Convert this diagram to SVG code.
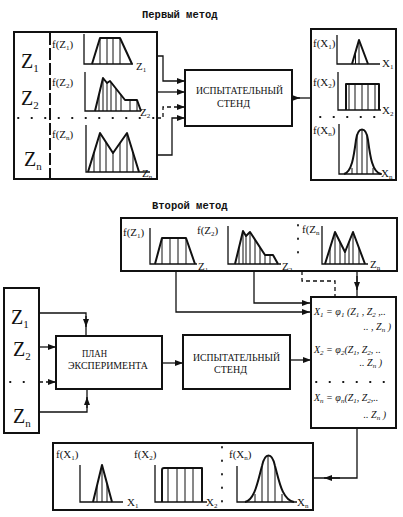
<svg xmlns="http://www.w3.org/2000/svg" width="403" height="517" viewBox="0 0 403 517">
<style>
.box{fill:none;stroke:#111;stroke-width:2}
.ax{fill:none;stroke:#111;stroke-width:1.3}
.sh{fill:none;stroke:#111;stroke-width:2;stroke-linejoin:round}
.ht{fill:none;stroke:#111;stroke-width:1}
.ln{fill:none;stroke:#111;stroke-width:1.3}
.dash{fill:none;stroke:#111;stroke-width:1.3;stroke-dasharray:4 3}
.dots{fill:none;stroke:#111;stroke-width:1.8;stroke-linecap:round;stroke-dasharray:0.5 13}
.title{font-family:"Liberation Mono",monospace;font-weight:bold;font-size:10.5px;fill:#111}
.lbl{font-family:"Liberation Serif",serif;font-size:10px;fill:#111}
.fz{font-family:"Liberation Serif",serif;font-size:11px;fill:#111}
.big{font-family:"Liberation Serif",serif;font-size:20px;fill:#111}
.fm{font-family:"Liberation Serif",serif;font-size:10px;font-style:italic;fill:#111}
</style>
<defs>
<marker id="arr" viewBox="0 0 8 6" refX="8" refY="3" markerWidth="8" markerHeight="6" markerUnits="userSpaceOnUse" orient="auto">
<path d="M0,0 L8,3 L0,6 z" fill="#111"/>
</marker>
</defs>

<text class="title" x="142" y="18">Первый метод</text>
<text class="title" x="152" y="209">Второй метод</text>

<g id="z-inputs-1">
<rect class="box" x="14" y="32" width="143" height="147"/>
<path d="M50,33 V179" fill="none" stroke="#111" stroke-width="2" stroke-dasharray="12 3"/>
<path class="dots" d="M18,118 H156"/>
<text class="big" x="21" y="68">Z<tspan font-size="11" dy="4">1</tspan></text>
<text class="big" x="21" y="105">Z<tspan font-size="11" dy="4">2</tspan></text>
<text class="big" x="24" y="166">Z<tspan font-size="11" dy="4">n</tspan></text>
<text class="fz" x="52" y="48">f(Z<tspan font-size="7" dy="2">1</tspan><tspan dy="-2">)</tspan></text>
<path class="ax" d="M84,34 V64 H133"/>
<path class="sh" d="M92,64 L100,38 H120 L132,64"/>
<path class="ht" d="M100,38V64 M107,38V64 M113,38V64 M120,38V64"/>
<text class="fz" x="136" y="70">Z<tspan font-size="7" dy="2">1</tspan></text>
<text class="fz" x="52" y="86">f(Z<tspan font-size="7" dy="2">2</tspan><tspan dy="-2">)</tspan></text>
<path class="ax" d="M85,72 V111 H141"/>
<path class="sh" d="M95,111 L103,78 L107,83 L110,81 L125,100 H137 L141,111"/>
<path class="ht" d="M99,94.5V111 M103,78V111 M107,83V111 M111,82.3V111 M116,88.6V111 M121,94.9V111 M130,100V111 M137,100V111"/>
<text class="fz" x="140" y="116">Z<tspan font-size="7" dy="2">2</tspan></text>
<text class="fz" x="52" y="138">f(Z<tspan font-size="7" dy="2">n</tspan><tspan dy="-2">)</tspan></text>
<path class="ax" d="M86,125 V172 H150"/>
<path class="sh" d="M88,172 L100,133 L113,153 L127,133 L139,172"/>
<path class="ht" d="M94,152.5V172 M100,133V172 M106,142.2V172 M113,153V172 M120,143V172 M127,133V172 M133,152.5V172"/>
<text class="fz" x="142" y="177">Z<tspan font-size="7" dy="2">n</tspan></text>
</g>

<g id="stand-1">
<rect class="box" x="185" y="70" width="107" height="56"/>
<text class="lbl" x="196" y="94" textLength="87" lengthAdjust="spacingAndGlyphs">ИСПЫТАТЕЛЬНЫЙ</text>
<text class="lbl" x="217" y="107" textLength="33" lengthAdjust="spacingAndGlyphs">СТЕНД</text>
</g>

<g id="x-outputs-1">
<rect class="box" x="311" y="29" width="85" height="151"/>
<text class="fz" x="313" y="47">f(X<tspan font-size="7" dy="2">1</tspan><tspan dy="-2">)</tspan></text>
<path class="ax" d="M337,35 V64 H380"/>
<path class="sh" d="M352,64 L359,40 L368,64"/>
<path class="ht" d="M359,40V64 M355.5,52V64"/>
<text class="fz" x="382" y="67">X<tspan font-size="7" dy="2">1</tspan></text>
<text class="fz" x="313" y="86">f(X<tspan font-size="7" dy="2">2</tspan><tspan dy="-2">)</tspan></text>
<path class="ax" d="M338,72 V110 H381"/>
<path class="sh" d="M346,110 V84 H379 V110"/>
<path class="ht" d="M349,84V110 M355,84V110 M362,84V110 M368,84V110 M375,84V110"/>
<text class="fz" x="382" y="114">X<tspan font-size="7" dy="2">2</tspan></text>
<path class="dots" d="M320,117 H380" stroke-dasharray="0.5 14"/>
<text class="fz" x="313" y="134">f(X<tspan font-size="7" dy="2">n</tspan><tspan dy="-2">)</tspan></text>
<path class="ax" d="M339,124 V174 H382"/>
<path class="sh" d="M344,174 C352,172 354,155 356,140 C358,126 366,126 368,140 C370,155 372,172 381,174"/>
<path class="ht" d="M352,168V174 M357,136V174 M362,129V174 M367,136V174 M373,168V174"/>
<text class="fz" x="381" y="177">X<tspan font-size="7" dy="2">n</tspan></text>
</g>

<g id="z-distributions-2">
<rect class="box" x="121" y="218" width="276" height="53"/>
<text class="fz" x="123" y="236">f(Z<tspan font-size="7" dy="2">1</tspan><tspan dy="-2">)</tspan></text>
<path class="ax" d="M150,228 V264 H197"/>
<path class="sh" d="M155,264 L162,238 H186 L195,264"/>
<path class="ht" d="M162,238V264 M170,238V264 M178,238V264 M186,238V264"/>
<text class="fz" x="198" y="270">Z<tspan font-size="7" dy="2">1</tspan></text>
<text class="fz" x="197" y="234">f(Z<tspan font-size="7" dy="2">2</tspan><tspan dy="-2">)</tspan></text>
<path class="ax" d="M228,226 V264 H281"/>
<path class="sh" d="M235,264 L243,231 L246,236 L250,232 L265,255 H273 L278,264"/>
<path class="ht" d="M239,247.5V264 M243,231V264 M246,236V264 M250,232V264 M255,239.7V264 M260,247.3V264 M265,255V264 M270,255V264"/>
<text class="fz" x="282" y="270">Z<tspan font-size="7" dy="2">2</tspan></text>
<path class="dots" d="M298,225 V262" stroke-dasharray="0.5 7"/>
<text class="fz" x="302" y="233">f(Z<tspan font-size="7" dy="2">n</tspan></text>
<path class="ax" d="M322,226 V264 H368"/>
<path class="sh" d="M325,264 L335,232 L345,252 L353,232 L365,264"/>
<path class="ht" d="M330,248V264 M335,232V264 M340,242V264 M345,252V264 M349,242V264 M353,232V264 M359,248V264"/>
<text class="fz" x="370" y="268">Z<tspan font-size="7" dy="2">n</tspan></text>
</g>

<g id="z-inputs-2">
<rect class="box" x="4" y="288" width="35" height="145"/>
<text class="big" x="11" y="324">Z<tspan font-size="11" dy="4">1</tspan></text>
<text class="big" x="13" y="356">Z<tspan font-size="11" dy="4">2</tspan></text>
<path class="dots" d="M10,382 H32" stroke-dasharray="0.5 8"/>
<text class="big" x="13" y="423">Z<tspan font-size="11" dy="4">n</tspan></text>
</g>

<g id="plan">
<rect class="box" x="56" y="336" width="106" height="53"/>
<text class="lbl" x="82" y="357" textLength="25" lengthAdjust="spacingAndGlyphs">ПЛАН</text>
<text class="lbl" x="68" y="369" textLength="80" lengthAdjust="spacingAndGlyphs">ЭКСПЕРИМЕНТА</text>
</g>

<g id="stand-2">
<rect class="box" x="183" y="335" width="107" height="54"/>
<text class="lbl" x="193" y="361" textLength="87" lengthAdjust="spacingAndGlyphs">ИСПЫТАТЕЛЬНЫЙ</text>
<text class="lbl" x="214" y="373" textLength="33" lengthAdjust="spacingAndGlyphs">СТЕНД</text>
</g>

<g id="formulas">
<rect class="box" x="311" y="297" width="85" height="131"/>
<text class="fm" x="314" y="315">X<tspan font-size="7" dy="2">1</tspan><tspan dy="-2"> = φ</tspan><tspan font-size="7" dy="2">1</tspan><tspan dy="-2"> (Z</tspan><tspan font-size="7" dy="2">1</tspan><tspan dy="-2"> , Z</tspan><tspan font-size="7" dy="2">2</tspan><tspan dy="-2"> ,..</tspan></text>
<text class="fm" x="391" y="330" text-anchor="end">.. , Z<tspan font-size="7" dy="2">n</tspan><tspan dy="-2"> )</tspan></text>
<text class="fm" x="314" y="353">X<tspan font-size="7" dy="2">2</tspan><tspan dy="-2"> = φ</tspan><tspan font-size="7" dy="2">2</tspan><tspan dy="-2">(Z</tspan><tspan font-size="7" dy="2">1</tspan><tspan dy="-2">, Z</tspan><tspan font-size="7" dy="2">2</tspan><tspan dy="-2">, ..</tspan></text>
<text class="fm" x="382" y="366" text-anchor="end">.. Z<tspan font-size="7" dy="2">n</tspan><tspan dy="-2"> )</tspan></text>
<path class="dots" d="M316,382 H392" stroke-dasharray="0.5 10"/>
<text class="fm" x="314" y="401">X<tspan font-size="7" dy="2">n</tspan><tspan dy="-2"> = φ</tspan><tspan font-size="7" dy="2">n</tspan><tspan dy="-2">(Z</tspan><tspan font-size="7" dy="2">1</tspan><tspan dy="-2">, Z</tspan><tspan font-size="7" dy="2">2</tspan><tspan dy="-2">,..</tspan></text>
<text class="fm" x="386" y="418" text-anchor="end">.. Z<tspan font-size="7" dy="2">n</tspan><tspan dy="-2"> )</tspan></text>
</g>

<g id="x-distributions-2">
<rect class="box" x="53" y="443" width="260" height="67"/>
<text class="fz" x="56" y="458">f(X<tspan font-size="7" dy="2">1</tspan><tspan dy="-2">)</tspan></text>
<path class="ax" d="M80,465 V502 H123"/>
<path class="sh" d="M93,502 L102,465 L112,502"/>
<path class="ht" d="M97,485.6V502 M102,465V502 M107,483.5V502"/>
<text class="fz" x="127" y="506">X<tspan font-size="7" dy="2">1</tspan></text>
<text class="fz" x="134" y="458">f(X<tspan font-size="7" dy="2">2</tspan><tspan dy="-2">)</tspan></text>
<path class="ax" d="M155,465 V502 H207"/>
<path class="sh" d="M162,502 V470 Q162,468 164,468 H202 V502"/>
<path class="ht" d="M168,468V502 M177,468V502 M185,468V502 M193,468V502"/>
<text class="fz" x="206" y="506">X<tspan font-size="7" dy="2">2</tspan></text>
<path class="dots" d="M222,447 V502" stroke-dasharray="0.5 7"/>
<text class="fz" x="229" y="458">f(X<tspan font-size="7" dy="2">n</tspan><tspan dy="-2">)</tspan></text>
<path class="ax" d="M237,466 V502 H297"/>
<path class="sh" d="M245,502 C255,500 258,480 262,466 C265,452 272,452 275,466 C279,480 282,500 294,502"/>
<path class="ht" d="M255,494V502 M262,466V502 M268,456V502 M275,466V502 M282,494V502"/>
<text class="fz" x="297" y="506">X<tspan font-size="7" dy="2">n</tspan></text>
</g>

<g id="connectors">
<path class="ln" d="M157,56 H163 V81 H185" marker-end="url(#arr)"/>
<path class="ln" d="M157,92 H185" marker-end="url(#arr)"/>
<path class="dash" d="M157,118 H163 V107 H185" marker-end="url(#arr)"/>
<path class="ln" d="M157,155 H172 V118 H185" marker-end="url(#arr)"/>
<path class="ln" d="M292,98 H311"/>
<path class="ln" d="M292,98 H300" marker-end="url(#arr)"/>

<path class="ln" d="M176,271 V312 H310" marker-end="url(#arr)"/>
<path class="ln" d="M254,271 V303 H310" marker-end="url(#arr)"/>
<path class="dash" d="M302,271 V281 H335 V297"/>
<path class="ln" d="M357,271 V297"/>
<path class="ln" d="M357,276 V290" marker-end="url(#arr)"/>

<path class="ln" d="M39,313 H86 V336"/>
<path class="ln" d="M86,316 V327" marker-end="url(#arr)"/>
<path class="ln" d="M39,347 H56" marker-end="url(#arr)"/>
<path class="dash" d="M39,382 H56" marker-end="url(#arr)"/>
<path class="ln" d="M39,412 H87 V389"/>
<path class="ln" d="M87,408 V397" marker-end="url(#arr)"/>
<path class="ln" d="M162,363 H183" marker-end="url(#arr)"/>
<path class="ln" d="M290,360 H311" marker-end="url(#arr)"/>
<path class="ln" d="M357,428 V478 H313"/>
<path class="ln" d="M340,478 H324" marker-end="url(#arr)"/>
</g>
</svg>
